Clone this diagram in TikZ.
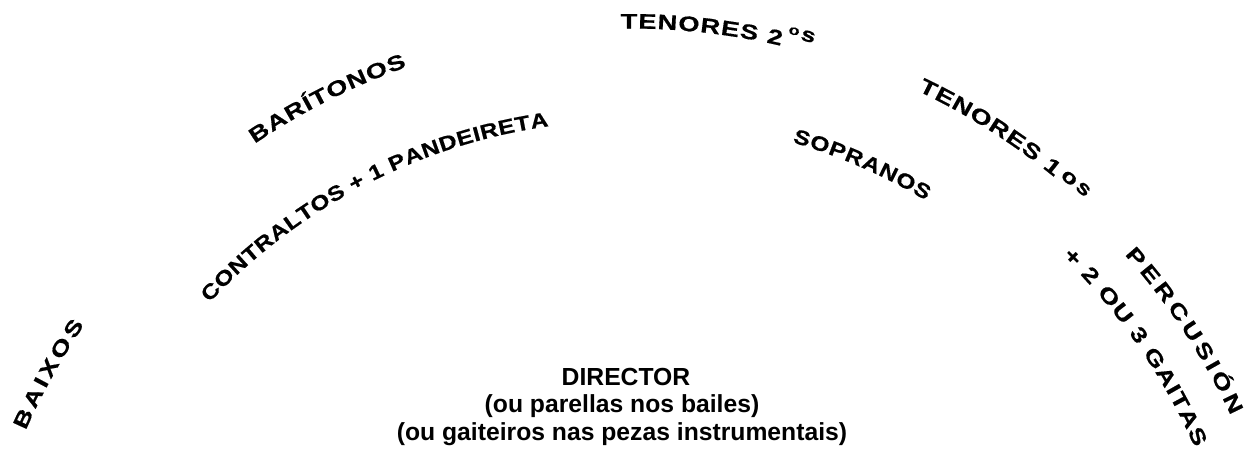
\documentclass[tikz,border=0pt]{standalone}
\usepackage{fontspec}
\setmainfont{Liberation Sans}
\newfontface\widebold[FakeStretch=1.2,FakeBold=0.5]{Liberation Sans Bold}
\newfontface\widerbold[FakeStretch=1.3,FakeBold=0.5]{Liberation Sans Bold}
\usetikzlibrary{decorations.text}
\tikzset{
  arctext/.style 2 args={decorate, decoration={text along path, text align={fit to path},
      text={|\widebold\fontsize{#1}{#1}\selectfont|#2}}},
  arcwide/.style 2 args={decorate, decoration={text along path, text align={fit to path},
      text={|\widerbold\fontsize{#1}{#1}\selectfont|#2}}},
  arcsmall/.style 2 args={decorate, decoration={text along path, text align=center,
      text={|\widerbold\fontsize{#1}{#1}\selectfont|#2}}},
  director/.style={font=\bfseries\fontsize{24.7}{24.7}\selectfont, anchor=base, inner sep=0pt}
}
\newcommand\arctxt[5]{\path[arctext={#4}{#5}] (O) ++(#1:#3pt) arc[start angle=#1, end angle=#2, radius=#3pt];}
\newcommand\arcwd[5]{\path[arcwide={#4}{#5}] (O) ++(#1:#3pt) arc[start angle=#1, end angle=#2, radius=#3pt];}
\newcommand\arcsml[5]{\path[arcsmall={#4}{#5}] (O) ++(#1:#3pt) arc[start angle=#1, end angle=#2, radius=#3pt];}
\begin{document}
\begin{tikzpicture}[x=1pt,y=1pt]
\useasboundingbox (0,0) rectangle (1254,458);
\coordinate (O) at (630,-239);
% outer row
\arcwd{156.2}{145.7}{660.5}{21}{BAIXOS}
\arcwd{124.15}{109.5}{668.5}{21}{BARÍTONOS}
\arcwd{90.8}{76.95}{668.5}{21}{TENORES 2}
\arcsml{77.2}{75.1}{682}{14}{o}
\arcsml{75.9}{73.9}{679}{20}{s}
\arcwd{64.6}{50.8}{671}{21}{TENORES 1}
\arcsml{50.6}{48.9}{674.5}{20}{o}
\arcsml{49.1}{47.4}{675.5}{20}{s}
\arcwd{41.8}{25.1}{663.5}{21}{PERCUSIÓN}
% inner row
\arctxt{136.85}{98.1}{576.5}{20.5}{CONTRALTOS + 1 PANDEIRETA}
\arctxt{73.7}{59.2}{578}{20.5}{SOPRANOS}
\arcwd{45.55}{23.83}{617.5}{21}{+ 2 OU 3 GAITAS}
% director
\node[director] (dir) at (626,72) {DIRECTOR};
\node[director] (par) at (622,45) {(ou parellas nos bailes)};
\node[director] (gai) at (622,17) {(ou gaiteiros nas pezas instrumentais)};
\end{tikzpicture}
\end{document}
